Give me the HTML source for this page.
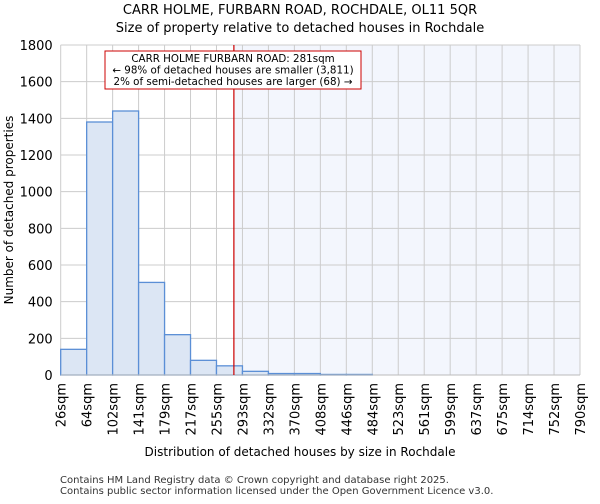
<!DOCTYPE html>
<html><head><style>
body{margin:0;background:#fff;font-family:"DejaVu Sans","Liberation Sans",sans-serif}
</style></head><body>
<svg width="600" height="500" xmlns="http://www.w3.org/2000/svg" font-family="DejaVu Sans, Liberation Sans, sans-serif">
<text x="300" y="14" text-anchor="middle" font-size="13">CARR HOLME, FURBARN ROAD, ROCHDALE, OL11 5QR</text>
<text x="300" y="32" text-anchor="middle" font-size="13">Size of property relative to detached houses in Rochdale</text>
<g id="plot"></g>
<text x="300" y="456" text-anchor="middle" font-size="12">Distribution of detached houses by size in Rochdale</text>
<text transform="translate(13,210) rotate(-90)" text-anchor="middle" font-size="12">Number of detached properties</text>
<text x="60" y="483" font-size="10" fill="#333">Contains HM Land Registry data © Crown copyright and database right 2025.</text>
<text x="60" y="494" font-size="10" fill="#333">Contains public sector information licensed under the Open Government Licence v3.0.</text>
</svg>
<script>
const categories=["26sqm","64sqm","102sqm","141sqm","179sqm","217sqm","255sqm","293sqm","332sqm","370sqm","408sqm","446sqm","484sqm","523sqm","561sqm","599sqm","637sqm","675sqm","714sqm","752sqm","790sqm"];
const counts=[140,1380,1440,505,220,80,50,20,8,8,3,3,0,0,0,0,0,0,0,0];
const yTicks=[0,200,400,600,800,1000,1200,1400,1600,1800];
const markerPos=6.67;
const NS="http://www.w3.org/2000/svg";
const L=60.7,R=580,T=45,B=375,yMax=1800;
const bw=(R-L)/counts.length;
const x=i=>L+i*bw, y=v=>B-v/yMax*(B-T);
const g=document.getElementById('plot');
function mk(t,a){const e=document.createElementNS(NS,t);for(const k in a)e.setAttribute(k,a[k]);g.appendChild(e);return e;}
let e;
e=mk('rect',{x:x(markerPos),y:T,width:R-x(markerPos),height:B-T,fill:'#f3f6fd'});


yTicks.forEach(v=>{
 e=mk('line',{x1:L,x2:R,y1:y(v),y2:y(v),stroke:'#ccc'});
 
 
 e=mk('text',{x:L-8,y:y(v)+5,'text-anchor':'end','font-size':13});
 e.textContent=v;
 
 
});
categories.forEach((c,i)=>{
 e=mk('line',{x1:x(i),x2:x(i),y1:T,y2:B,stroke:'#ccc'});
 
 
 e=mk('text',{transform:`translate(${x(i)+5},${B+8}) rotate(-90)`,'text-anchor':'end','font-size':13});
 e.textContent=c;
 
 
});
counts.forEach((v,i)=>{
 if(v<=0)return;
 e=mk('rect',{x:x(i),y:y(v),width:bw,height:B-y(v),fill:'#dce6f4',stroke:'#5b8fd6','stroke-width':1.3});
 
 
});
e=mk('line',{x1:L,x2:R,y1:B,y2:B,stroke:'#bbb'});


e=mk('line',{x1:x(markerPos),x2:x(markerPos),y1:T,y2:B,stroke:'#cc0000','stroke-width':1.2});


e=mk('rect',{x:105,y:51,width:256,height:38,fill:'#fff',stroke:'#cc0000'});


["CARR HOLME FURBARN ROAD: 281sqm","← 98% of detached houses are smaller (3,811)","2% of semi-detached houses are larger (68) →"].forEach((t,k)=>{
 e=mk('text',{x:233,y:62+k*11.5,'text-anchor':'middle','font-size':10.3});
 e.textContent=t;
 
 
});
</script>
</body></html>
